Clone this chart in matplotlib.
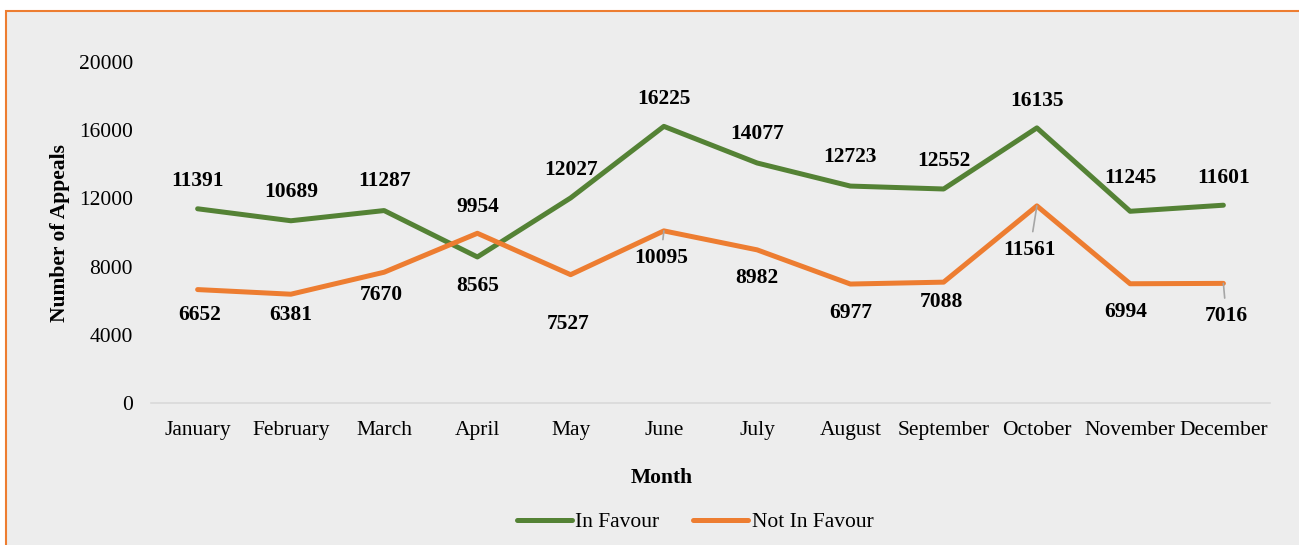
import matplotlib
matplotlib.use("Agg")
import matplotlib.pyplot as plt
from matplotlib.patches import Rectangle
import numpy as np

months = ["January", "February", "March", "April", "May", "June", "July",
          "August", "September", "October", "November", "December"]
in_favour = [11391, 10689, 11287, 8565, 12027, 16225, 14077, 12723, 12552, 16135, 11245, 11601]
not_in_favour = [6652, 6381, 7670, 9954, 7527, 10095, 8982, 6977, 7088, 11561, 6994, 7016]
yticks = [0, 4000, 8000, 12000, 16000, 20000]

# label offsets in pixels (dx, dy) relative to data point (positive dy = up)
green_off = [(0, 28), (0, 29), (0, 30), (0, -29), (0, 28), (0, 27), (0, 29), (0, 29), (0, 28), (0, 27), (0, 33), (0, 27)]
orange_off = [(2, -25), (0, -21), (-3, -23), (0, 26), (-3, -49), (-3, -27), (0, -28), (0, -29), (-2, -20), (-7, -44), (-4, -28), (3, -33)]
leader = [False, False, False, False, False, True, False, False, False, True, False, True]

plt.rcParams['font.family'] = ['Liberation Serif', 'DejaVu Serif']

W, H = 1299, 545
FS = 15.5
fig = plt.figure(figsize=(W / 100, H / 100), dpi=100)
fig.patch.set_facecolor('white')
bg = Rectangle((6 / W, -0.1), 1.2, 1 - 11 / H + 0.1, transform=fig.transFigure,
               facecolor='#EDEDED', edgecolor='#ED7D31', linewidth=1.5, zorder=-10)
fig.patches.append(bg)

ax = fig.add_axes([151 / W, 1 - 403 / H, (1270 - 151) / W, (403 - 62) / H])
ax.set_facecolor('none')
x = np.arange(len(months))
green = '#548235'
orange = '#ED7D31'
ax.plot(x, in_favour, color=green, lw=3.6, label='In Favour', solid_capstyle='round', zorder=3)
ax.plot(x, not_in_favour, color=orange, lw=3.6, label='Not In Favour', solid_capstyle='round', zorder=3)

ax.set_xlim(-0.5, len(months) - 0.5)
ax.set_ylim(0, 20000)
ax.set_yticks(yticks)
ax.set_yticklabels([str(v) for v in yticks], fontsize=FS)
ax.set_xticks(x)
ax.set_xticklabels(months, fontsize=FS)
ax.tick_params(axis='both', length=0)
ax.tick_params(axis='y', pad=13)
ax.tick_params(axis='x', pad=13)
for s in ['top', 'right', 'left']:
    ax.spines[s].set_visible(False)
ax.spines['bottom'].set_color('#D9D9D9')
ax.spines['bottom'].set_linewidth(1.2)


def pts(px):
    return px * 72 / 100

for i in range(len(months)):
    dx, dy = green_off[i]
    ax.annotate(str(in_favour[i]), (x[i], in_favour[i]), xytext=(pts(dx), pts(dy)),
                textcoords='offset points', ha='center', va='center',
                fontsize=FS, fontweight='bold', zorder=4)
    dx, dy = orange_off[i]
    kw = {}
    if leader[i]:
        kw['arrowprops'] = dict(arrowstyle='-', color='#A6A6A6', lw=1.2, shrinkA=4, shrinkB=0)
    ax.annotate(str(not_in_favour[i]), (x[i], not_in_favour[i]), xytext=(pts(dx), pts(dy)),
                textcoords='offset points', ha='center', va='center',
                fontsize=FS, fontweight='bold', zorder=4, **kw)

fig.text(60 / W, 1 - 233 / H, 'Number of Appeals', rotation=90, ha='center', va='center',
         fontsize=FS, fontweight='bold')
fig.text(662 / W, 1 - 478 / H, 'Month', ha='center', va='center', fontsize=FS, fontweight='bold')

leg = fig.legend(loc='center', bbox_to_anchor=(695 / W, 1 - 522 / H), ncol=2, frameon=False,
                 fontsize=FS, handlelength=2.55, handletextpad=0.15, columnspacing=1.6)

fig.savefig('out.png', dpi=100)
